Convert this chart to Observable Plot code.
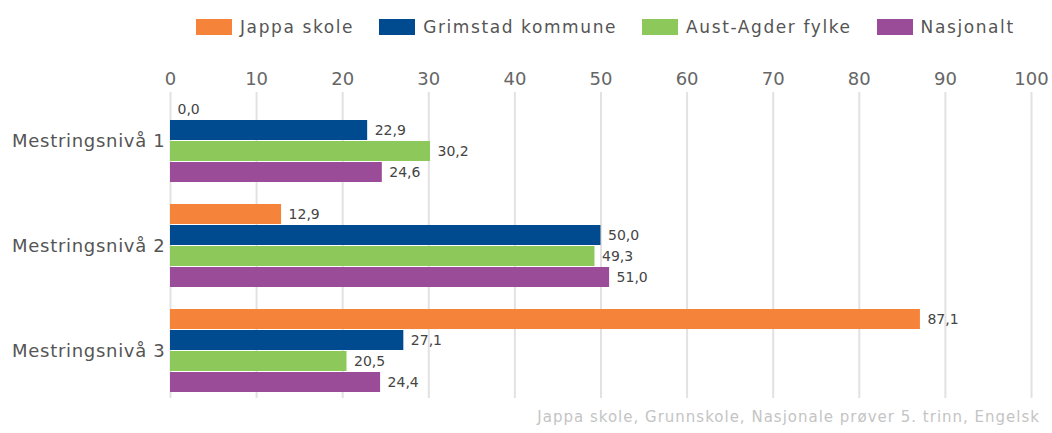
<!DOCTYPE html>
<html>
<head>
<meta charset="utf-8">
<script src="https://cdn.jsdelivr.net/npm/d3@7"></script>
<script src="https://cdn.jsdelivr.net/npm/@observablehq/plot@0.6"></script>
<style>
  html, body { margin: 0; padding: 0; background: #fff; }
  body { width: 1052px; height: 433px; overflow: hidden; font-family: "DejaVu Sans", sans-serif; }
  #legend { height: 40px; box-sizing: border-box; padding-top: 14px; padding-left: 196px; display: flex; align-items: center; }
  .item { display: flex; align-items: center; margin-right: 25px; height: 16px; }
  .sw { width: 36px; height: 16px; margin-right: 8px; }
  .lab { font-size: 17px; letter-spacing: 1.6px; color: #555; line-height: 16px; }
  #chart svg { display: block; }
  #chart g[aria-label="y-axis tick label"] text { letter-spacing: 0.7px; }
  #caption { height: 31px; line-height: 31px; text-align: right; padding-right: 12px; font-size: 15px; color: #c4c4c4; letter-spacing: 1px; }
</style>
</head>
<body>
<div id="legend"></div>
<div id="chart"></div>
<div id="caption"></div>
<script>
const categories = ["Mestringsnivå 1", "Mestringsnivå 2", "Mestringsnivå 3"];
const series = ["Jappa skole", "Grimstad kommune", "Aust-Agder fylke", "Nasjonalt"];
const jappaSkole = [0.0, 12.9, 87.1];
const grimstadKommune = [22.9, 50.0, 27.1];
const austAgderFylke = [30.2, 49.3, 20.5];
const nasjonalt = [24.6, 51.0, 24.4];
const seriesColors = ["#F5843A", "#004A8F", "#8CC85A", "#9A4C98"];
const xTicks = [0, 10, 20, 30, 40, 50, 60, 70, 80, 90, 100];
const captionText = "Jappa skole, Grunnskole, Nasjonale prøver 5. trinn, Engelsk";

const seriesValues = [jappaSkole, grimstadKommune, austAgderFylke, nasjonalt];

// Legend
const legend = document.getElementById("legend");
series.forEach((s, i) => {
  const item = document.createElement("div");
  item.className = "item";
  const sw = document.createElement("div");
  sw.className = "sw";
  sw.style.background = seriesColors[i];
  const lab = document.createElement("span");
  lab.className = "lab";
  lab.textContent = s;
  item.appendChild(sw);
  item.appendChild(lab);
  legend.appendChild(item);
});
document.getElementById("caption").textContent = captionText;

// Data rows
const rows = [];
categories.forEach((c, i) => {
  series.forEach((s, j) => {
    rows.push({ category: c, series: s, value: seriesValues[j][i], key: c + "|" + s });
  });
});
const yDomain = [];
categories.forEach((c, i) => {
  if (i > 0) yDomain.push("gap" + i);
  series.forEach(s => yDomain.push(c + "|" + s));
});
const tickKeys = categories.map(c => c + "|" + series[1]);

const frameH = 306;
const step = frameH / (yDomain.length - 0.07);

const chart = Plot.plot({
  width: 1052,
  height: 362,
  marginTop: 52,
  marginBottom: 4,
  marginLeft: 170,
  marginRight: 21,
  style: { fontFamily: "DejaVu Sans, sans-serif", background: "#fff", color: "#666" },
  x: { domain: [0, 100], axis: null, label: null },
  y: { domain: yDomain, paddingInner: 0.07, paddingOuter: 0, axis: null, label: null },
  color: { domain: series, range: seriesColors },
  marks: [
    Plot.ruleX(xTicks, { x: d => d, stroke: "#e2e2e2", strokeWidth: 2 }),
    Plot.axisX({ anchor: "top", ticks: xTicks, tickSize: 0, tickPadding: 8, fontSize: 18, fill: "#666", label: null, tickFormat: d => String(d) }),
    Plot.barX(rows, { x: "value", y: "key", fill: "series" }),
    Plot.text(rows, {
      x: "value", y: "key",
      text: d => d.value.toFixed(1).replace(".", ","),
      dx: 7, textAnchor: "start", fontSize: 14, fill: "#444"
    }),
    Plot.axisY(tickKeys, {
      anchor: "left", tickSize: 0, tickPadding: 5, fontSize: 18, fill: "#555", label: null,
      tickFormat: k => k.split("|")[0], dy: step / 2
    })
  ]
});
document.getElementById("chart").appendChild(chart);
</script>
</body>
</html>
